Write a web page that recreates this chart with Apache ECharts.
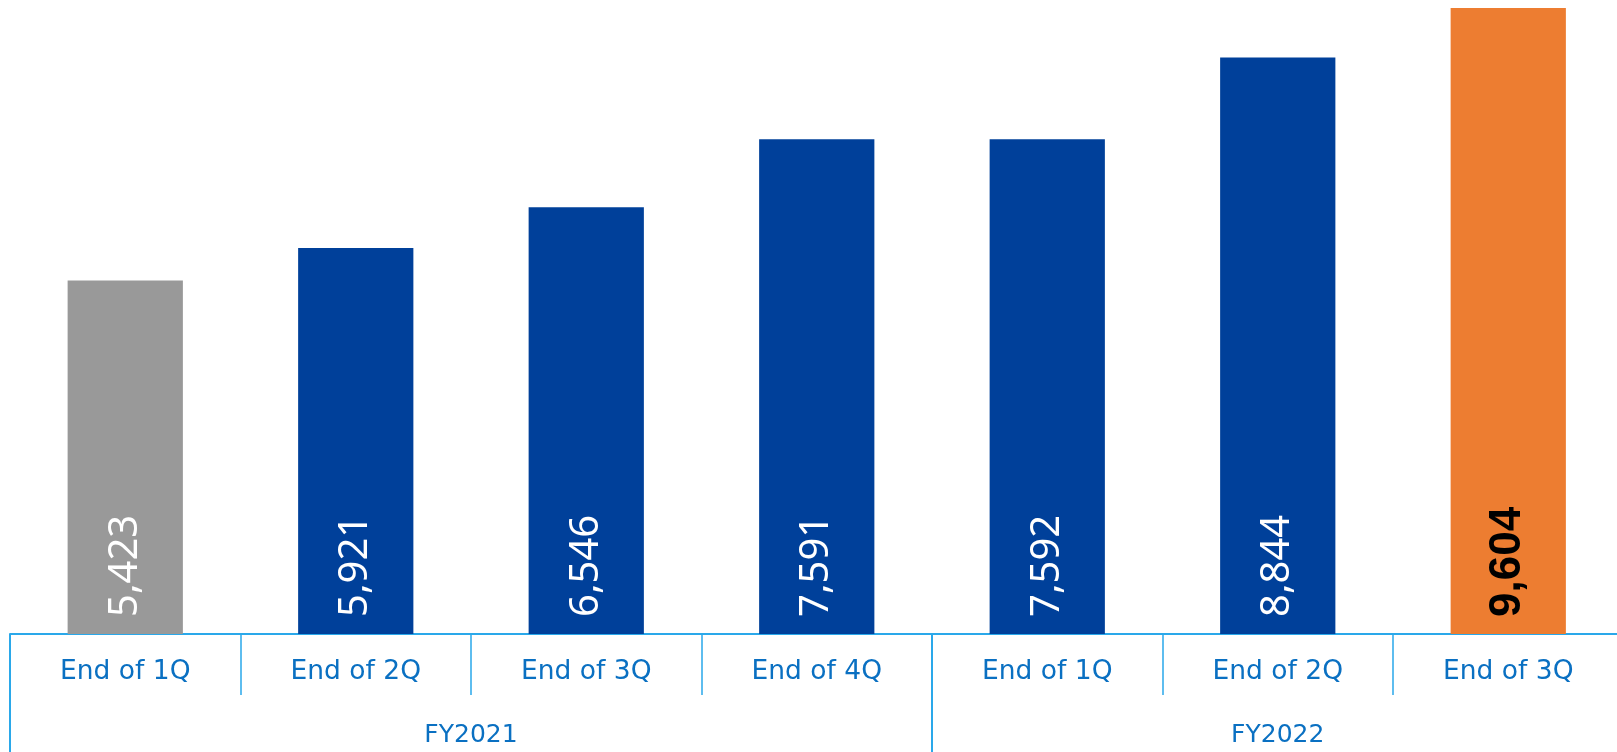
<!DOCTYPE html>
<html>
<head>
<meta charset="utf-8">
<script src="https://cdn.jsdelivr.net/npm/echarts@6/dist/echarts.min.js"></script>
<style>
html,body{margin:0;padding:0;background:#fff;overflow:hidden;}
#chart{width:1617px;height:752px;}
</style>
</head>
<body>
<div id="chart"></div>
<script>
// ---- data ----
const quarters = ['End of 1Q','End of 2Q','End of 3Q','End of 4Q','End of 1Q','End of 2Q','End of 3Q'];
const fiscalYears = ['FY2021','FY2022'];
const quartersPerYear = [4, 3];
const values = [5423, 5921, 6546, 7591, 7592, 8844, 9604];

// ---- styles ----
const GRAY = '#999999', BLUE = '#00409A', ORANGE = '#ED7D31';
const AXIS = '#2AA8EA', TEXT = '#0A70C2';
function barColor(i){ return i === 0 ? GRAY : (i === values.length - 1 ? ORANGE : BLUE); }

// Fiscal-year boundaries & centers (in category units) built from data
const fyBounds = [0]; quartersPerYear.forEach(n => fyBounds.push(fyBounds[fyBounds.length-1] + n));
const fyCenters = fiscalYears.map((_, i) => (fyBounds[i] + fyBounds[i+1]) / 2);

const seriesData = values.map((v, i) => {
  const last = i === values.length - 1;
  return {
    value: v,
    itemStyle: { color: barColor(i) },
    label: last
      ? { color: '#000', fontFamily: 'Liberation Sans', fontWeight: 'bold', fontSize: 44 }
      : { color: '#fff', fontFamily: 'Noto Sans', fontWeight: 'normal', fontSize: 40 }
  };
});

const chart = echarts.init(document.getElementById('chart'), null, { renderer: 'canvas' });
chart.setOption({
  animation: false,
  grid: { left: 10, top: 8, width: 1613.5, height: 626, containLabel: false, outerBoundsMode: 'none' },
  xAxis: [
    {
      type: 'category',
      data: quarters,
      boundaryGap: true,
      axisLine: { show: true, lineStyle: { color: AXIS, width: 2 } },
      axisTick: { show: true, interval: 0, alignWithLabel: false, length: 61, lineStyle: { color: AXIS, width: 1.5 } },
      axisLabel: { interval: 0, margin: 25, color: TEXT, fontFamily: 'DejaVu Sans', fontSize: 26.5 },
      splitLine: { show: false }
    },
    {
      type: 'value',
      min: 0,
      max: quarters.length,
      position: 'bottom',
      axisLine: { show: false },
      axisTick: { show: true, customValues: fyBounds.slice(0, -1), length: 118, lineStyle: { color: AXIS, width: 2 } },
      axisLabel: {
        customValues: fyCenters,
        margin: 89,
        color: TEXT, fontFamily: 'DejaVu Sans', fontSize: 25,
        formatter: function (v) {
          const idx = fyCenters.findIndex(c => Math.abs(c - v) < 1e-6);
          return idx >= 0 ? fiscalYears[idx] : '';
        }
      },
      splitLine: { show: false }
    }
  ],
  yAxis: {
    type: 'value',
    min: 0,
    max: 'dataMax',
    show: false,
    splitLine: { show: false }
  },
  series: [{
    type: 'bar',
    xAxisIndex: 0,
    barWidth: '50%',
    data: seriesData,
    label: {
      show: true,
      position: 'insideBottom',
      distance: 17,
      rotate: 90,
      align: 'left',
      verticalAlign: 'middle',
      formatter: p => p.value.toLocaleString('en-US')
    }
  }]
});
</script>
</body>
</html>
